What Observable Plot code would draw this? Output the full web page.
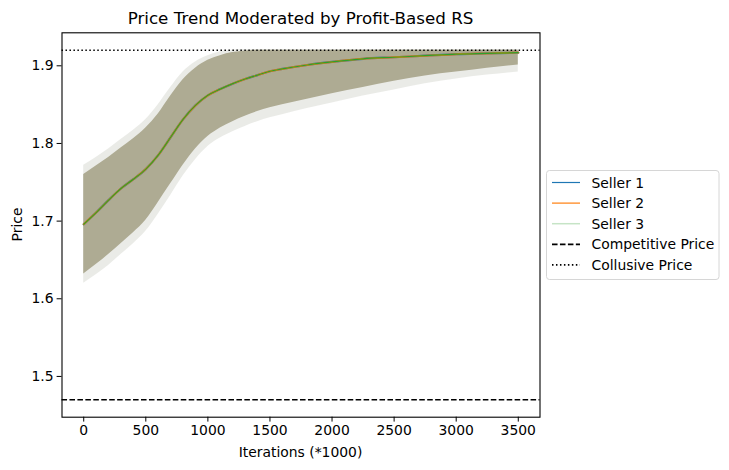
<!DOCTYPE html>
<html>
<head>
<meta charset="utf-8">
<script src="https://cdn.jsdelivr.net/npm/d3@7"></script>
<script src="https://cdn.jsdelivr.net/npm/@observablehq/plot@0.6"></script>
<style>
  html, body { margin: 0; padding: 0; background: white; }
  svg { display: block; }
</style>
</head>
<body>
<div id="chart"></div>
<script>
// ---- data ----
const iterations = [0, 100, 200, 300, 400, 500, 600, 700, 800, 900, 1000, 1100, 1200, 1300, 1400, 1500, 1600, 1800, 2000, 2250, 2500, 2750, 3000, 3250, 3500];
const seller1 = [1.696, 1.711, 1.727, 1.742, 1.754, 1.767, 1.785, 1.808, 1.831, 1.849, 1.862, 1.870, 1.877, 1.883, 1.888, 1.893, 1.896, 1.901, 1.905, 1.909, 1.911, 1.913, 1.915, 1.916, 1.917];
const seller2 = [1.696, 1.711, 1.727, 1.742, 1.754, 1.767, 1.785, 1.808, 1.831, 1.849, 1.862, 1.870, 1.877, 1.883, 1.888, 1.893, 1.896, 1.901, 1.905, 1.909, 1.911, 1.913, 1.915, 1.916, 1.917];
const seller3 = [1.696, 1.711, 1.727, 1.742, 1.754, 1.767, 1.785, 1.808, 1.831, 1.849, 1.862, 1.870, 1.877, 1.883, 1.888, 1.893, 1.896, 1.901, 1.905, 1.909, 1.911, 1.913, 1.915, 1.916, 1.917];
// core of the spread band
const bandLow  = [1.632, 1.644, 1.657, 1.671, 1.685, 1.701, 1.724, 1.748, 1.772, 1.793, 1.809, 1.820, 1.828, 1.835, 1.841, 1.846, 1.850, 1.857, 1.864, 1.872, 1.880, 1.887, 1.892, 1.897, 1.901];
const bandHigh = [1.760, 1.771, 1.782, 1.794, 1.806, 1.820, 1.838, 1.861, 1.882, 1.897, 1.907, 1.913, 1.917, 1.919, 1.920, 1.920, 1.920, 1.920, 1.920, 1.920, 1.920, 1.920, 1.920, 1.920, 1.920];
// tips of the jagged edge spikes
const bandLowTips  = [1.620, 1.631, 1.643, 1.657, 1.671, 1.687, 1.709, 1.733, 1.758, 1.779, 1.796, 1.807, 1.815, 1.822, 1.828, 1.833, 1.837, 1.845, 1.852, 1.861, 1.869, 1.877, 1.883, 1.888, 1.892];
const bandHighTips = [1.772, 1.782, 1.793, 1.805, 1.817, 1.831, 1.850, 1.872, 1.892, 1.905, 1.913, 1.918, 1.920, 1.921, 1.921, 1.921, 1.921, 1.921, 1.921, 1.921, 1.921, 1.921, 1.921, 1.921, 1.921];
const competitivePrice = 1.47;
const collusivePrice = 1.92;
const xTicks = [0, 500, 1000, 1500, 2000, 2500, 3000, 3500];
const yTicks = [1.5, 1.6, 1.7, 1.8, 1.9];
const sellerNames = ["Seller 1", "Seller 2", "Seller 3"];
const sellerColors = ["#1f77b4", "#ff7f0e", "#2ca02c"];

// ---- tables ----
const band = iterations.map((x, i) => ({x, lo: bandLow[i], hi: bandHigh[i], loT: bandLowTips[i], hiT: bandHighTips[i]}));
const series = [seller1, seller2, seller3].map((vals, s) =>
  iterations.map((x, i) => ({x, y: vals[i], seller: sellerNames[s]})));

const W = 729, H = 470;
const mL = 61.5, mR = W - 539.5, mT = 32.3, mB = H - 416.7;

const chart = Plot.plot({
  width: W,
  height: H,
  marginLeft: mL,
  marginRight: mR,
  marginTop: mT,
  marginBottom: mB,
  style: {fontFamily: "DejaVu Sans", fontSize: "13.9px", color: "black", background: "white", overflow: "visible"},
  x: {domain: [-175, 3675]},
  y: {domain: [1.4475, 1.9425]},
  marks: [
    Plot.areaY(band, {x: "x", y1: "loT", y2: "hiT", fill: "#b4b8a8", fillOpacity: 0.28, curve: "monotone-x"}),
    Plot.areaY(band, {x: "x", y1: "lo", y2: "hi", fill: "#aeab93", curve: "monotone-x"}),
    Plot.line(series[0], {x: "x", y: "y", stroke: sellerColors[0], strokeWidth: 2.2, curve: "monotone-x"}),
    Plot.line(series[1], {x: "x", y: "y", stroke: sellerColors[1], strokeWidth: 2.0, curve: "monotone-x"}),
    Plot.line(series[2], {x: "x", y: "y", stroke: sellerColors[2], strokeWidth: 1.2, curve: "monotone-x"}),
    Plot.ruleY([competitivePrice], {stroke: "black", strokeWidth: 1.5, strokeDasharray: "5.55,2.4"}),
    Plot.ruleY([collusivePrice], {stroke: "black", strokeWidth: 1.5, strokeDasharray: "1.5,2.475"}),
    Plot.frame({stroke: "black", strokeWidth: 1.1}),
    Plot.axisX({ticks: xTicks, tickSize: 4.9, tickPadding: 3.5, tickFormat: d => String(d), label: null}),
    Plot.axisY({ticks: yTicks, tickSize: 4.9, tickPadding: 3.5, tickFormat: d3.format(".1f"), label: null})
  ]
});
document.getElementById("chart").appendChild(chart);

// ---- title, axis labels, legend ----
const svg = d3.select(chart);
const cx = (mL + (W - mR)) / 2;
svg.append("text").attr("x", cx).attr("y", 24).attr("text-anchor", "middle")
  .attr("font-size", "16.7px").attr("fill", "black").text("Price Trend Moderated by Profit-Based RS");
svg.append("text").attr("x", cx).attr("y", 456.5).attr("text-anchor", "middle")
  .attr("font-size", "13.9px").attr("fill", "black").text("Iterations (*1000)");
svg.append("text").attr("transform", `translate(21.5,${(mT + H - mB) / 2}) rotate(-90)`)
  .attr("text-anchor", "middle").attr("font-size", "13.9px").attr("fill", "black").text("Price");

const legendItems = [
  {label: "Seller 1", stroke: sellerColors[0], width: 1.2, dash: null},
  {label: "Seller 2", stroke: sellerColors[1], width: 1.2, dash: null},
  {label: "Seller 3", stroke: "#c6e4c6", width: 1.5, dash: null},
  {label: "Competitive Price", stroke: "black", width: 1.8, dash: "5.55,2.4"},
  {label: "Collusive Price", stroke: "black", width: 1.8, dash: "1.5,2.475"}
];
const lg = svg.append("g").attr("text-anchor", "start");
lg.append("rect").attr("x", 546.5).attr("y", 170.5).attr("width", 172.5).attr("height", 109)
  .attr("rx", 3).attr("fill", "white").attr("stroke", "#d6d6d6").attr("stroke-width", 1);
legendItems.forEach((it, i) => {
  const y = 182.5 + i * 20.6;
  const ln = lg.append("line").attr("x1", 552).attr("x2", 580).attr("y1", y).attr("y2", y)
    .attr("stroke", it.stroke).attr("stroke-width", it.width);
  if (it.dash) ln.attr("stroke-dasharray", it.dash);
  lg.append("text").attr("x", 591.5).attr("y", y).attr("dy", "0.36em").attr("text-anchor", "start")
    .attr("font-size", "13.9px").attr("fill", "black").text(it.label);
});
</script>
</body>
</html>
